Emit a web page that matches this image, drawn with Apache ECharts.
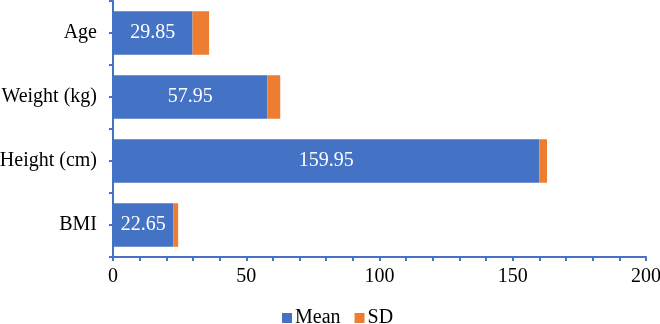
<!DOCTYPE html>
<html>
<head>
<meta charset="utf-8">
<script src="https://cdn.jsdelivr.net/npm/echarts@6/dist/echarts.min.js"></script>
<style>
  html, body { margin: 0; padding: 0; background: #fff; }
  #chart { width: 660px; height: 324px; }
</style>
</head>
<body>
<div id="chart"></div>
<script>
// data
const categories = ["BMI", "Height (cm)", "Weight (kg)", "Age"];
const meanValues = [22.65, 159.95, 57.95, 29.85];
const sdValues = [1.8, 2.9, 4.8, 6.2];
const xTicks = [0, 50, 100, 150, 200];

const blue = "#4472C4";
const orange = "#ED7D31";
const font = "Liberation Serif";

const chart = echarts.init(document.getElementById("chart"));

const option = {
  backgroundColor: "#fff",
  textStyle: { fontFamily: font },
  grid: { left: 113, right: 14, top: 1, bottom: 67, outerBoundsMode: "none", containLabel: false },
  legend: {
    bottom: -9,
    left: 277,
    icon: "rect",
    itemWidth: 10,
    itemHeight: 10,
    itemGap: 14,
    textStyle: { fontFamily: font, fontSize: 20, color: "#000", padding: [0, 0, 0, -2] },
    data: ["Mean", "SD"]
  },
  xAxis: {
    type: "value",
    min: xTicks[0],
    max: xTicks[xTicks.length - 1],
    interval: 50,
    axisLine: { show: true, lineStyle: { color: blue, width: 2 } },
    axisTick: { show: true, length: 4, lineStyle: { color: blue, width: 2 } },
    minorTick: { show: true, splitNumber: 5, length: 4, lineStyle: { color: blue, width: 2 } },
    splitLine: { show: false },
    axisLabel: { color: "#000", fontFamily: font, fontSize: 20, margin: 10 }
  },
  yAxis: [
    {
      type: "category",
      data: categories,
      axisLine: { show: true, lineStyle: { color: blue, width: 2 } },
      axisTick: { show: true, length: 4, lineStyle: { color: blue, width: 2 } },
      axisLabel: { color: "#000", fontFamily: font, fontSize: 20, margin: 16 }
    },
    {
      // only for the extra ticks at the middle of each category
      type: "value",
      position: "left",
      min: 0,
      max: 8,
      interval: 1,
      axisLine: { show: false },
      axisTick: { show: true, length: 4, lineStyle: { color: blue, width: 2 } },
      axisLabel: { show: false },
      splitLine: { show: false }
    }
  ],
  series: [
    {
      name: "Mean",
      type: "bar",
      stack: "total",
      barWidth: "68%",
      itemStyle: { color: blue },
      label: {
        show: true,
        position: "inside",
        color: "#fff",
        fontFamily: font,
        fontSize: 20,
        formatter: (p) => p.value.toFixed(2)
      },
      data: meanValues
    },
    {
      name: "SD",
      type: "bar",
      stack: "total",
      barWidth: "68%",
      itemStyle: { color: orange },
      data: sdValues
    }
  ]
};

chart.setOption(option);
</script>
</body>
</html>
